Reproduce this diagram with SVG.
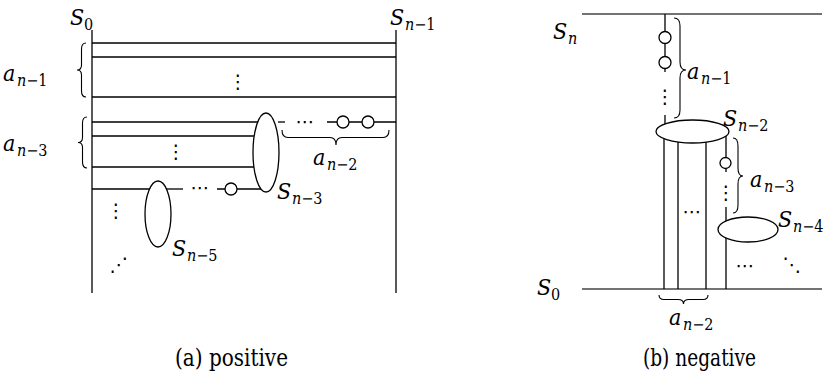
<svg xmlns="http://www.w3.org/2000/svg" width="824" height="380" viewBox="0 0 824 380">
<style>
.ln{stroke:#000;stroke-width:1.3;fill:none}
.gl{stroke:#444;stroke-width:1.6;fill:none}
.br{stroke:#000;stroke-width:1.1;fill:none}
.node{stroke:#000;stroke-width:1.3;fill:#fff}
.lbl{font-family:'DejaVu Serif Condensed','DejaVu Serif',serif;font-size:23px;fill:#000}
.it{font-style:italic}
.sub{font-size:16px}
.dots{font-family:'DejaVu Sans',sans-serif;font-size:19px;fill:#000;text-anchor:middle}
.cap{font-family:'DejaVu Serif Condensed','DejaVu Serif',serif;font-size:24px;fill:#000}
</style>
<rect width="824" height="380" fill="#fff"/>

<!-- ===== (a) positive ===== -->
<g id="connectors-a">
  <line class="ln" x1="92" y1="30" x2="92" y2="293"/>
  <line class="ln" x1="396" y1="30" x2="396" y2="293"/>
  <line class="ln" x1="92" y1="43" x2="396" y2="43"/>
  <line class="ln" x1="92" y1="57" x2="396" y2="57"/>
  <line class="ln" x1="92" y1="97" x2="396" y2="97"/>
  <line class="ln" x1="92" y1="122" x2="266" y2="122"/>
  <line class="ln" x1="278" y1="122" x2="285" y2="122"/>
  <line class="ln" x1="327" y1="122" x2="396" y2="122"/>
  <line class="ln" x1="92" y1="136" x2="266" y2="136"/>
  <line class="ln" x1="92" y1="167" x2="266" y2="167"/>
  <line class="ln" x1="92" y1="189" x2="158" y2="189"/>
  <line class="ln" x1="166" y1="189" x2="183" y2="189"/>
  <line class="ln" x1="217" y1="189" x2="266" y2="189"/>
</g>
<g id="node-Sn3"><ellipse class="node" cx="266" cy="152.5" rx="13" ry="39.5"/></g>
<g id="node-Sn5"><ellipse class="node" cx="158" cy="214" rx="13" ry="33"/></g>
<g id="node-a-c1"><circle class="node" cx="343" cy="122" r="6"/></g>
<g id="node-a-c2"><circle class="node" cx="368" cy="122" r="6"/></g>
<g id="node-a-c3"><circle class="node" cx="231" cy="189" r="6"/></g>

<g id="braces-a">
  <path class="br" d="M86,43 Q81.5,43 81.5,49 L81.5,65 Q81.5,70 77,70 Q81.5,70 81.5,75 L81.5,91 Q81.5,97 86,97"/>
  <path class="br" d="M87,117 Q82.5,117 82.5,123 L82.5,137.5 Q82.5,142.5 78,142.5 Q82.5,142.5 82.5,147.5 L82.5,162 Q82.5,168 87,168"/>
  <path class="br" d="M282,130 Q282,137.5 288,137.5 L330,137.5 Q336,137.5 336,145 Q336,137.5 342,137.5 L383,137.5 Q389,137.5 389,130"/>
</g>

<g id="labels-a">
  <text class="lbl" x="70" y="25"><tspan class="it">S</tspan><tspan class="sub" x="84" dy="5">0</tspan></text>
  <text class="lbl" x="390" y="25"><tspan class="it">S</tspan><tspan class="sub it" x="405" dy="5">n</tspan><tspan class="sub">−</tspan><tspan class="sub">1</tspan></text>
  <text class="lbl" x="3" y="81"><tspan class="it">a</tspan><tspan class="sub it" x="17" dy="5">n</tspan><tspan class="sub">−</tspan><tspan class="sub">1</tspan></text>
  <text class="lbl" x="3" y="151"><tspan class="it">a</tspan><tspan class="sub it" x="17" dy="5">n</tspan><tspan class="sub">−</tspan><tspan class="sub">3</tspan></text>
  <text class="lbl" x="313" y="165"><tspan class="it">a</tspan><tspan class="sub it" x="327" dy="5">n</tspan><tspan class="sub">−</tspan><tspan class="sub">2</tspan></text>
  <text class="lbl" x="277" y="199"><tspan class="it">S</tspan><tspan class="sub it" x="292" dy="5">n</tspan><tspan class="sub">−</tspan><tspan class="sub">3</tspan></text>
  <text class="lbl" x="172" y="256"><tspan class="it">S</tspan><tspan class="sub it" x="187" dy="5">n</tspan><tspan class="sub">−</tspan><tspan class="sub">5</tspan></text>
</g>
<g id="dots-a">
  <text class="dots" x="238" y="88">⋮</text>
  <text class="dots" x="305" y="128">⋯</text>
  <text class="dots" x="176" y="158">⋮</text>
  <text class="dots" x="200" y="194">⋯</text>
  <text class="dots" x="116" y="217">⋮</text>
  <text class="dots" x="119" y="271">⋰</text>
</g>

<!-- ===== (b) negative ===== -->
<g id="connectors-b">
  <line class="gl" x1="582" y1="14" x2="822" y2="14"/>
  <line class="gl" x1="582" y1="289" x2="822" y2="289"/>
  <line class="ln" x1="665" y1="14" x2="665" y2="72"/>
  <line class="ln" x1="665" y1="115" x2="665" y2="125"/>
  <line class="ln" x1="664" y1="135" x2="664" y2="289"/>
  <line class="ln" x1="678" y1="135" x2="678" y2="289"/>
  <line class="ln" x1="706" y1="135" x2="706" y2="289"/>
  <line class="ln" x1="726" y1="133" x2="726" y2="172"/>
  <line class="ln" x1="726" y1="207" x2="726" y2="289"/>
</g>
<g id="node-b-c1"><circle class="node" cx="665" cy="37.5" r="6"/></g>
<g id="node-b-c2"><circle class="node" cx="665" cy="62.5" r="6"/></g>
<g id="node-Sn2"><ellipse class="node" cx="692.5" cy="131.5" rx="36.5" ry="11.5"/></g>
<g id="node-b-c3"><circle class="node" cx="725.5" cy="163" r="5.5"/></g>
<g id="node-Sn4"><ellipse class="node" cx="748" cy="229.5" rx="30" ry="12.5"/></g>

<g id="braces-b">
  <path class="br" d="M674,18 Q680,18 680,26 L680,62 Q680,70 686,70 Q680,70 680,78 L680,110 Q680,118 674,118"/>
  <path class="br" d="M733,138 Q738,138 738,146 L738,168 Q738,176 743,176 Q738,176 738,184 L738,205 Q738,213 733,213"/>
  <path class="br" d="M659,295 Q659,299.5 664,299.5 L678,299.5 Q683.5,299.5 683.5,304 Q683.5,299.5 689,299.5 L703,299.5 Q708,299.5 708,295"/>
</g>

<g id="labels-b">
  <text class="lbl" x="553" y="39"><tspan class="it">S</tspan><tspan class="sub it" x="568" dy="5">n</tspan></text>
  <text class="lbl" x="687" y="79"><tspan class="it">a</tspan><tspan class="sub it" x="701" dy="5">n</tspan><tspan class="sub">−</tspan><tspan class="sub">1</tspan></text>
  <text class="lbl" x="723" y="126"><tspan class="it">S</tspan><tspan class="sub it" x="738" dy="5">n</tspan><tspan class="sub">−</tspan><tspan class="sub">2</tspan></text>
  <text class="lbl" x="750" y="187"><tspan class="it">a</tspan><tspan class="sub it" x="764" dy="5">n</tspan><tspan class="sub">−</tspan><tspan class="sub">3</tspan></text>
  <text class="lbl" x="778" y="227"><tspan class="it">S</tspan><tspan class="sub it" x="793" dy="5">n</tspan><tspan class="sub">−</tspan><tspan class="sub">4</tspan></text>
  <text class="lbl" x="537" y="295"><tspan class="it">S</tspan><tspan class="sub" x="551" dy="5">0</tspan></text>
  <text class="lbl" x="669" y="325"><tspan class="it">a</tspan><tspan class="sub it" x="683" dy="5">n</tspan><tspan class="sub">−</tspan><tspan class="sub">2</tspan></text>
</g>
<g id="dots-b">
  <text class="dots" x="665" y="103">⋮</text>
  <text class="dots" x="726" y="199">⋮</text>
  <text class="dots" x="692" y="218">⋯</text>
  <text class="dots" x="745" y="272">⋯</text>
  <text class="dots" x="792" y="271">⋱</text>
</g>

<g id="captions">
  <text class="cap" x="175" y="366" textLength="113" lengthAdjust="spacingAndGlyphs">(a) positive</text>
  <text class="cap" x="643" y="366" textLength="113" lengthAdjust="spacingAndGlyphs">(b) negative</text>
</g>
</svg>
